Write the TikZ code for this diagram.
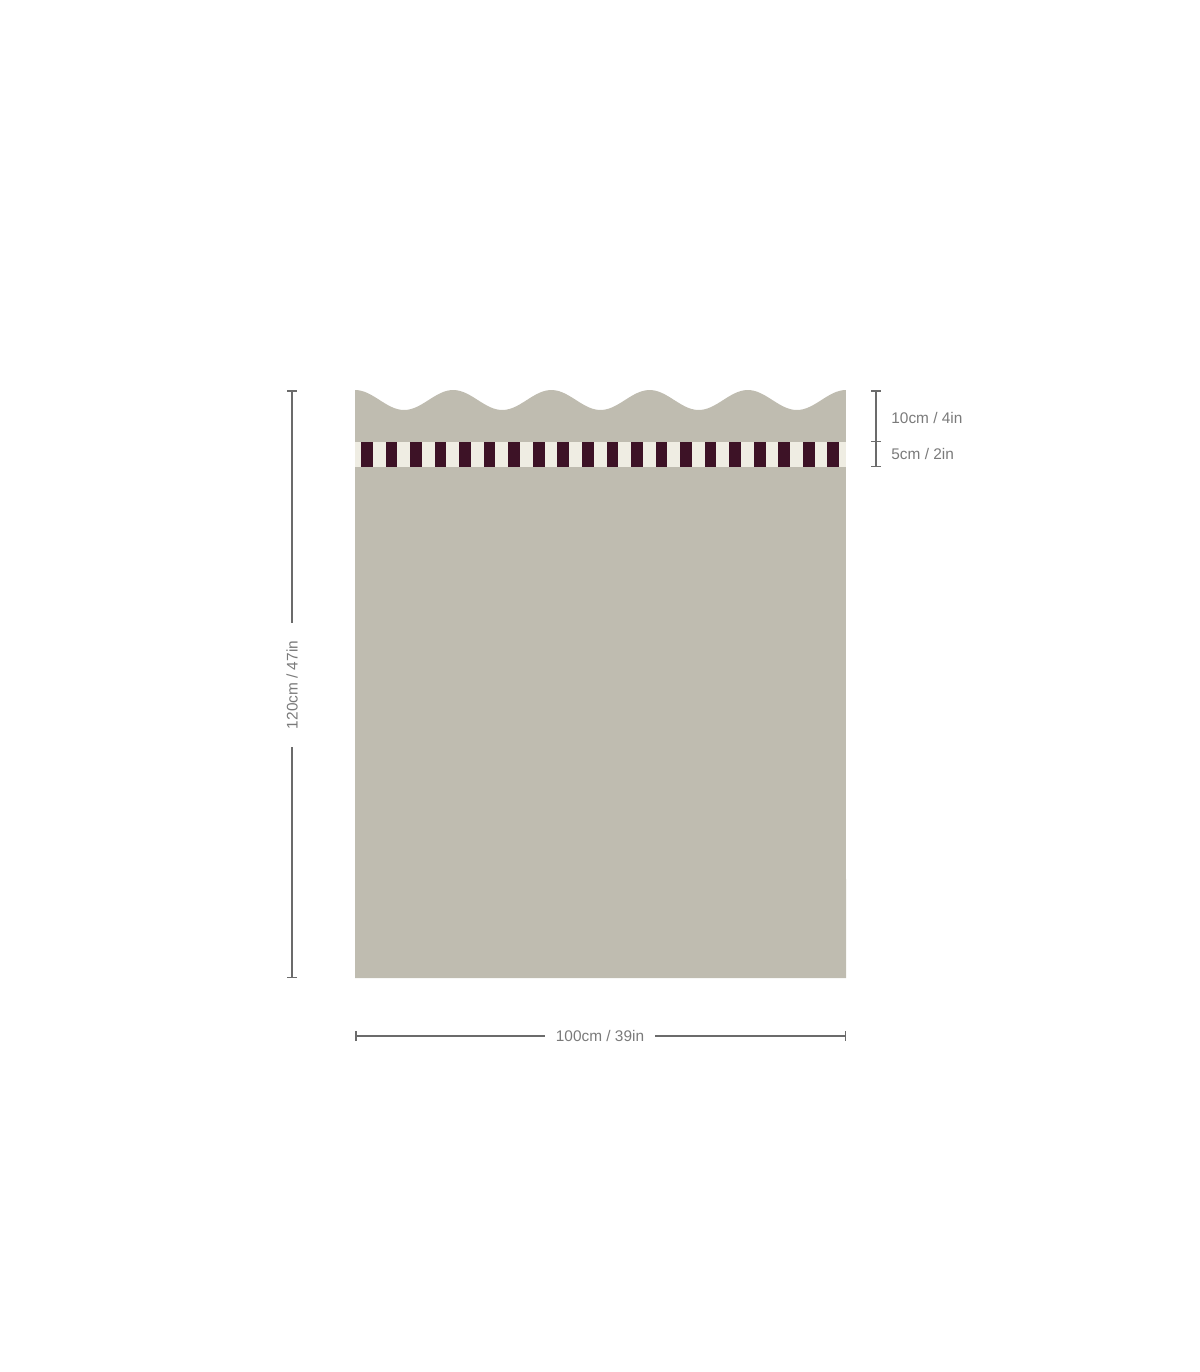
\documentclass[tikz,border=0pt]{standalone}
\usepackage{fontspec}
\setmainfont{Liberation Sans}
\usetikzlibrary{arrows.meta}

\definecolor{panel}{HTML}{BFBCB0}
\definecolor{cream}{HTML}{EFEDE3}
\definecolor{plum}{HTML}{3D1226}
\definecolor{dimgrey}{HTML}{6B6B6B}

\begin{document}
\begin{tikzpicture}[x=0.5pt, y=-0.5pt,
                    dim line/.style={draw=dimgrey, line width=0.75pt},
                    dim label/.style={font=\fontsize{7.7}{9}\selectfont, text=dimgrey!90, inner sep=0pt},
                    tick/.style={-{Bar[width=5pt,line width=0.75pt]}}]

  \useasboundingbox (0,0) rectangle (1200,1372);

  % panel with scalloped top
  \fill[panel] plot[domain=0:5, samples=150] ({355+98.2*\x}, {400-10*cos(360*\x)})
     -- (846,978) -- (355,978) -- cycle;

  % striped band
  \fill[cream] (355,442) rectangle (846,467);
  \foreach \k in {0,...,19}
    \fill[plum] ({361+24.55*\k},442) rectangle ++(11.7,25);

  \coordinate (h top) at (292,390);
  \coordinate (h bot) at (292,978);
  \coordinate (w left) at (355,1036);
  \coordinate (w right) at (846,1036);
  \coordinate (d top) at (876,390);
  \coordinate (d mid) at (876,442);
  \coordinate (d bot) at (876,467);

  \node[dim label, rotate=90, inner xsep=9pt] (h label) at (292,685) {120cm / 47in};
  \node[dim label, inner xsep=5.5pt] (w label) at (600,1036) {100cm / 39in};
  \node[dim label, anchor=west] (top label) at (891,418) {10cm / 4in};
  \node[dim label, anchor=west] (band label) at (891,454) {5cm / 2in};

  \draw[dim line, tick] (h label) -- (h top);
  \draw[dim line, tick] (h label) -- (h bot);
  \draw[dim line, tick] (w label) -- (w left);
  \draw[dim line, tick] (w label) -- (w right);
  \draw[dim line, {Bar[width=5pt,line width=0.75pt]}-{Bar[width=5pt,line width=0.75pt]}] (d top) -- (d mid);
  \draw[dim line, tick] (d mid) -- (d bot);

\end{tikzpicture}
\end{document}
